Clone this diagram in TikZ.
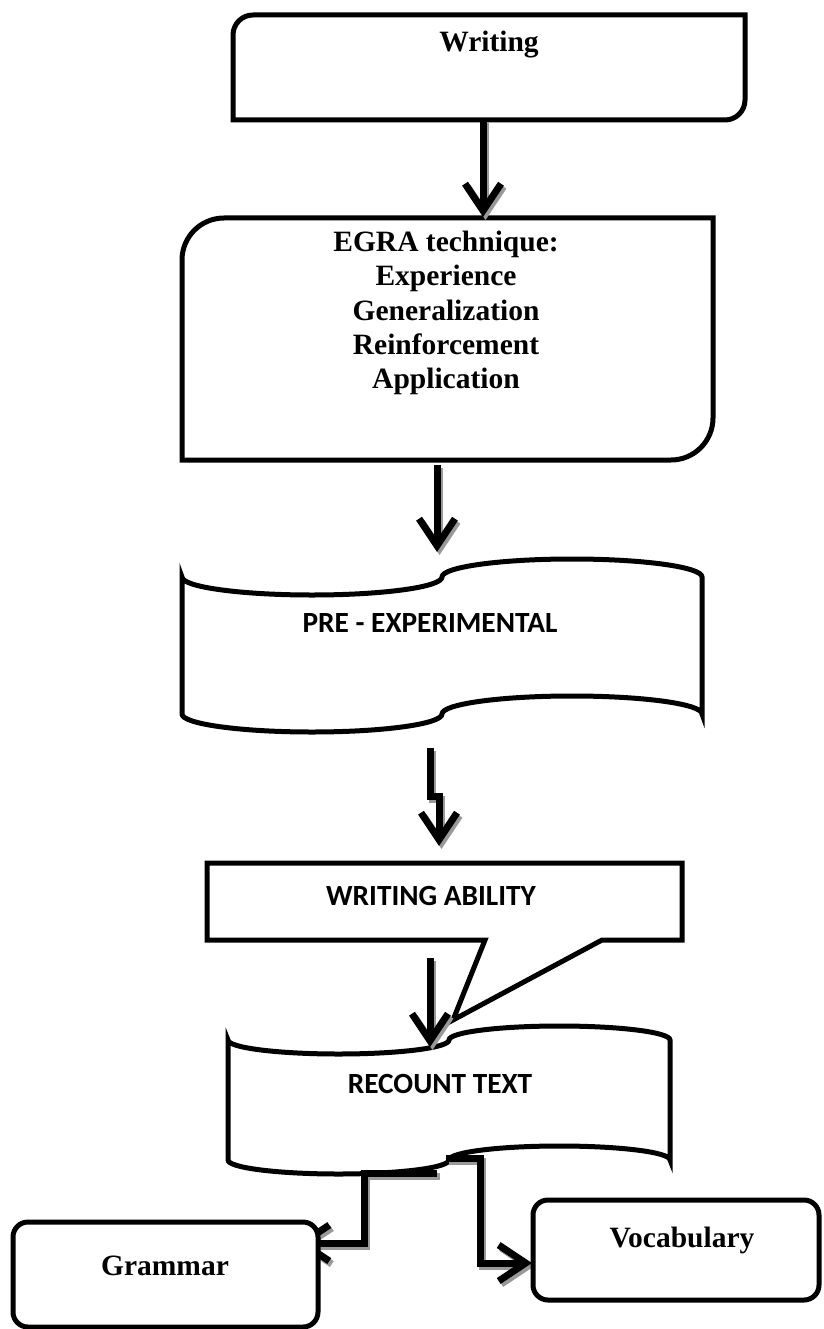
\documentclass[tikz,border=0pt]{standalone}
\usepackage{fontspec}
\setmainfont{Liberation Serif}
\newfontfamily\calib{Carlito}
\usetikzlibrary{arrows.meta}
\begin{document}
\begin{tikzpicture}[x=1pt,y=-1pt,
  box/.style={draw=black, line width=5pt, fill=white, line join=miter},
  arr/.style={line width=7pt, line join=miter, -{Straight Barb[length=27pt,width=36pt]}},
  arrshadow/.style={arr, draw=black!40, transform canvas={shift={(2.5pt,-3pt)}}},
  serif/.style={font=\bfseries\fontsize{29.5}{34}\selectfont, inner sep=0pt},
  sans/.style={font=\calib\bfseries\fontsize{29.3}{34}\selectfont, inner sep=0pt},
]
\useasboundingbox (0,0) rectangle (823,1329);

% Writing box
\draw[box] (233,120) -- (233,35) .. controls (233,23.95) and (241.95,15) .. (253,15)
  -- (745,15) -- (745,100) .. controls (745,111.05) and (736.05,120) .. (725,120) -- cycle;
\node[serif, anchor=base] (twriting) at (489,52) {Writing};

% EGRA box
\draw[box] (182,460) -- (182,260) .. controls (182,236.8) and (200.8,218) .. (224,218)
  -- (713,218) -- (713,418) .. controls (713,441.2) and (694.2,460) .. (671,460) -- cycle;
\node[serif, anchor=base] (eg1) at (446,252) {EGRA technique:};
\node[serif, anchor=base] (eg2) at (446,286) {Experience};
\node[serif, anchor=base] (eg3) at (446,320) {Generalization};
\node[serif, anchor=base] (eg4) at (446,354) {Reinforcement};
\node[serif, anchor=base] (eg5) at (446,388) {Application};

% PRE - EXPERIMENTAL tape shape
\draw[box] (182,577) .. controls (182,586.9) and (240.2,595) .. (312,595)
  .. controls (383.8,595) and (442,586.9) .. (442,577)
  .. controls (442,567.1) and (500.2,559) .. (572,559)
  .. controls (643.8,559) and (702,567.1) .. (702,577)
  -- (702,714)
  .. controls (702,704.1) and (643.8,696) .. (572,696)
  .. controls (500.2,696) and (442,704.1) .. (442,714)
  .. controls (442,723.9) and (383.8,732) .. (312,732)
  .. controls (240.2,732) and (182,723.9) .. (182,714) -- cycle;
\node[sans, anchor=base] (tpre) at (430,632) {PRE - EXPERIMENTAL};

% WRITING ABILITY callout
\draw[box] (207,863) -- (682,863) -- (682,940) -- (602,940) -- (453,1020) -- (485,940) -- (207,940) -- cycle;
\node[sans, anchor=base] (twa) at (431,905) {WRITING ABILITY};

% RECOUNT TEXT tape shape
\draw[box] (228,1040) .. controls (228,1047.7) and (277.5,1054) .. (338.5,1054)
  .. controls (399.5,1054) and (449,1047.7) .. (449,1040)
  .. controls (449,1032.3) and (498.5,1026) .. (559.5,1026)
  .. controls (620.5,1026) and (670,1032.3) .. (670,1040)
  -- (670,1160)
  .. controls (670,1152.3) and (620.5,1146) .. (559.5,1146)
  .. controls (498.5,1146) and (449,1152.3) .. (449,1160)
  .. controls (449,1167.7) and (399.5,1174) .. (338.5,1174)
  .. controls (277.5,1174) and (228,1167.7) .. (228,1160) -- cycle;
\node[sans, anchor=base] (trecount) at (440,1093) {RECOUNT TEXT};

% connector coordinates
\coordinate (a1s) at (483,120);  \coordinate (a1e) at (483,217);
\coordinate (a2s) at (437,465);  \coordinate (a2e) at (437,552);
\coordinate (a3s) at (430,748);  \coordinate (a3m) at (430,796);
\coordinate (a3n) at (439,796);  \coordinate (a3e) at (439,846);
\coordinate (a4s) at (430,958);  \coordinate (a4e) at (430,1047);
\coordinate (gs) at (437,1173);  \coordinate (gm1) at (364,1173);
\coordinate (gm2) at (364,1243); \coordinate (ge) at (296,1243);
\coordinate (vs) at (446,1158);  \coordinate (vm1) at (480,1158);
\coordinate (vm2) at (480,1263); \coordinate (ve) at (532,1263);

% arrows with shadows
\draw[arrshadow] (a1s) -- (a1e);
\draw[arr] (a1s) -- (a1e);
\draw[arrshadow] (a2s) -- (a2e);
\draw[arr] (a2s) -- (a2e);
\draw[arrshadow] (a3s) -- (a3m) -- (a3n) -- (a3e);
\draw[arr] (a3s) -- (a3m) -- (a3n) -- (a3e);
\draw[arrshadow] (a4s) -- (a4e);
\draw[arr] (a4s) -- (a4e);
\draw[arrshadow] (gs) -- (gm1) -- (gm2) -- (ge);
\draw[arr] (gs) -- (gm1) -- (gm2) -- (ge);
\draw[arrshadow] (vs) -- (vm1) -- (vm2) -- (ve);
\draw[arr] (vs) -- (vm1) -- (vm2) -- (ve);

% Grammar and Vocabulary boxes
\draw[box, rounded corners=15pt] (13,1222) rectangle (318,1327);
\node[serif, anchor=base] (tgrammar) at (165,1275) {Grammar};
\draw[box, rounded corners=15pt] (533,1200) rectangle (819,1300);
\node[serif, anchor=base] (tvocab) at (682,1247) {Vocabulary};
\end{tikzpicture}
\end{document}
